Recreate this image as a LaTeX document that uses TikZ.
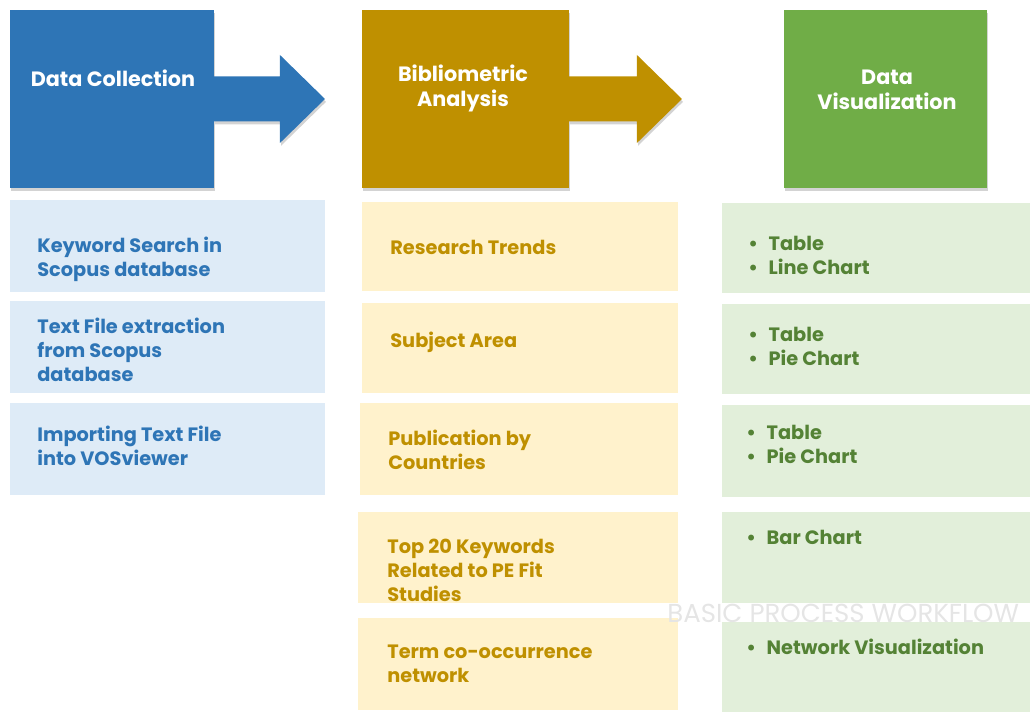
\documentclass[tikz,border=0pt]{standalone}
\usepackage{fontspec}
\setmainfont{Poppins}
\usepackage{xcolor}
\usepackage{tikz}
\usetikzlibrary{positioning,shadows}

\definecolor{blueDk}{HTML}{2E75B6}
\definecolor{blueLt}{HTML}{DEEBF7}
\definecolor{goldDk}{HTML}{BF9000}
\definecolor{goldLt}{HTML}{FFF2CC}
\definecolor{greenDk}{HTML}{70AD47}
\definecolor{greenLt}{HTML}{E2EFDA}
\definecolor{greenTx}{HTML}{548235}

\newcommand{\itm}{\textbullet\hspace{0.55em}}

\begin{document}
\begin{tikzpicture}[x=0.02cm, y=-0.02cm,
  hshadow/.style={drop shadow={shadow xshift=0.6pt, shadow yshift=-1.6pt, opacity=0.35}},
  head/.style={rectangle, outer sep=0pt, inner sep=0pt, minimum height=3.56cm, anchor=north west, hshadow},
  htxt/.style={align=center, inner sep=0pt, text=white, font=\fontsize{11.8}{14.2}\selectfont\bfseries},
  cell/.style={rectangle, outer sep=0pt, inner sep=0pt, anchor=north west},
  txt/.style={anchor=west, align=left, inner sep=0pt, font=\fontsize{11}{13.6}\selectfont\bfseries},
  wmark/.style={anchor=west, inner sep=0pt, text=black!10, font=\fontsize{14.8}{14.8}\selectfont}]
\useasboundingbox (0,0) rectangle (1030,711);
% the three stage headers
\node[head, fill=blueDk, minimum width=4.08cm] (dc) at (10,10) {};
\node[head, fill=goldDk, minimum width=4.14cm] (ba) at (362,10) {};
\node[head, fill=greenDk, minimum width=4.06cm] (dv) at (784,10) {};
% block arrows leaving the first two headers
\foreach \src/\col/\len in {dc/blueDk/66, ba/goldDk/68} {
  \fill[\col, hshadow] (\src.east) ++(0,-22.5) -- ++(\len,0) -- ++(0,-21.5) -- ++(45,44)
    -- ++(-45,44) -- ++(0,-21.5) -- ++(-\len,0) -- cycle;
}
\node[htxt] (dct) at (113,78) {Data Collection};
\node[htxt] (bat) at (463,88) {Bibliometric\\Analysis};
\node[htxt] (dvt) at (887,90) {Data\\Visualization};
% cells under each header
\foreach \nm/\y/\h in {kw/200/92, tf/301/92, im/403/92}
  \node[cell, fill=blueLt, minimum width=6.3cm, minimum height=\h*0.02cm] (\nm) at (10,\y) {};
\foreach \nm/\x/\y/\h in {rt/362/202/89, sa/362/303/90, pc/360/403/92, tk/358/512/91, tc/358/618/92}
  \node[cell, fill=goldLt, minimum width=(678-\x)*0.02cm, minimum height=\h*0.02cm] (\nm) at (\x,\y) {};
\foreach \nm/\y/\h in {tl/203/90, tp/304/90, tq/405/92, bc/512/91, nv/622/90}
  \node[cell, fill=greenLt, minimum width=6.36cm, minimum height=\h*0.02cm] (\nm) at (722,\y) {};
% data collection
\node[txt, text=blueDk] (kwt) at (37,259.5) {Keyword Search in\\Scopus database};
\node[txt, text=blueDk] (tft) at (37,350) {Text File extraction\\from Scopus\\database};
\node[txt, text=blueDk] (imt) at (37,445.5) {Importing Text File\\into VOSviewer};
% bibliometric analysis
\node[txt, text=goldDk] (rtt) at (390,247) {Research Trends};
\node[txt, text=goldDk] (sat) at (390,342) {Subject Area};
\node[txt, text=goldDk] (pct) at (388,450) {Publication by\\Countries};
\node[txt, text=goldDk] (tkt) at (387,570) {Top 20 Keywords\\Related to PE Fit\\Studies};
\node[txt, text=goldDk] (tct) at (387,663.5) {Term co-occurrence\\network};
% data visualization
\node[txt, text=greenTx] (tlt) at (748,255) {\itm Table\\\itm Line Chart};
\node[txt, text=greenTx] (tpt) at (748,346.5) {\itm Table\\\itm Pie Chart};
\node[txt, text=greenTx] (tqt) at (746,444) {\itm Table\\\itm Pie Chart};
\node[txt, text=greenTx] (bct) at (746,537) {\itm Bar Chart};
\node[txt, text=greenTx] (nvt) at (746,647) {\itm Network Visualization};
\node[wmark] (wm) at (667,613) {BASIC PROCESS WORKFLOW};
\end{tikzpicture}
\end{document}
